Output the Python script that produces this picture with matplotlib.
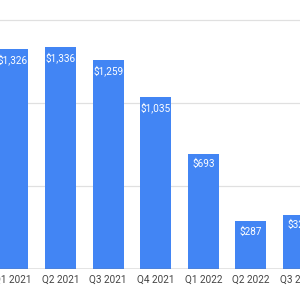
import matplotlib.pyplot as plt

quarters = ['Q1 2021', 'Q2 2021', 'Q3 2021', 'Q4 2021', 'Q1 2022', 'Q2 2022', 'Q3 2022']
values = [1326, 1336, 1259, 1035, 693, 287, 325]
labels = ['$1,326', '$1,336', '$1,259', '$1,035', '$693', '$287', '$325']
gridlines = [500, 1000, 1500]

plt.rcParams['font.family'] = ['Roboto', 'DejaVu Sans']

fig = plt.figure(figsize=(3, 3), dpi=100)
ax = fig.add_axes([0, 31 / 300, 1, 269 / 300])

x = range(len(values))
ax.bar(x, values, width=0.65, color='#4285F4', zorder=2)

for xi, v, lab in zip(x, values, labels):
    ax.annotate(lab, (xi, v), xytext=(0, -5), textcoords='offset pixels',
                ha='center', va='top', color='white', fontsize=7.2, zorder=3)

for g in gridlines:
    ax.axhline(g, color='#e0e0e0', lw=0.9, zorder=1)
ax.axhline(0, color='#777777', lw=1.0, zorder=3)

ax.set_xlim(-0.27, 6.03)
ax.set_ylim(0, 1620)
ax.set_xticks(list(x))
ax.set_xticklabels(quarters, fontsize=7.2, color='#444444')
ax.tick_params(axis='x', length=0, pad=4)
ax.set_yticks([])
for s in ax.spines.values():
    s.set_visible(False)

fig.savefig('out.png', dpi=100)
plt.close()
